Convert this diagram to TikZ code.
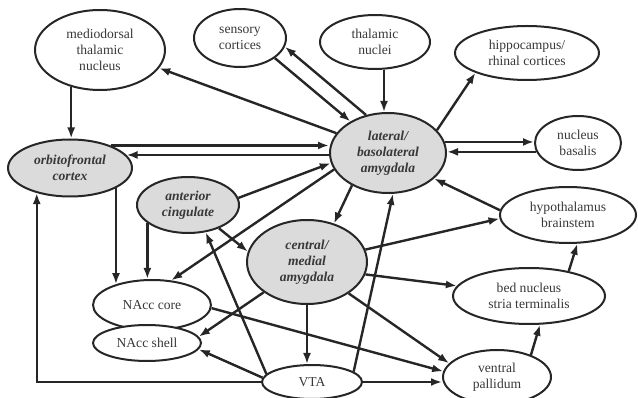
\documentclass[tikz,border=0pt]{standalone}
\usepackage{fontspec}
\setmainfont{Liberation Serif}
\usetikzlibrary{shapes.geometric,arrows.meta}
\begin{document}
\begin{tikzpicture}[x=1pt,y=-1pt,
  region/.style={ellipse, draw=black!85, line width=2pt, fill=white, inner sep=0pt,
    align=center, text=black!78, font=\fontsize{13.6}{16}\selectfont},
  shaded/.style={region, fill=gray!28, font=\fontsize{13.6}{16}\selectfont\bfseries\itshape},
  arr/.style={line width=2.4pt, draw=black!85, -{Latex[length=11pt,width=8pt]}},
]
\useasboundingbox (0,0) rectangle (638,398);

% nodes
\node[region, minimum width=130pt, minimum height=80pt] (md) at (100,50) {mediodorsal\\thalamic\\nucleus};
\node[region, minimum width=92pt, minimum height=58pt] (sc) at (240,38) {sensory\\cortices};
\node[region, minimum width=110pt, minimum height=54pt] (tn) at (375,42) {thalamic\\nuclei};
\node[region, minimum width=144pt, minimum height=54pt] (hc) at (527,53) {hippocampus/\\rhinal cortices};
\node[shaded, minimum width=116pt, minimum height=80pt] (lba) at (388,153) {lateral/\\basolateral\\amygdala};
\node[region, minimum width=86pt, minimum height=54pt] (nb) at (578,143) {nucleus\\basalis};
\node[shaded, minimum width=124pt, minimum height=57pt] (ofc) at (70,168) {orbitofrontal\\cortex};
\node[shaded, minimum width=102pt, minimum height=56pt] (ac) at (188,205) {anterior\\cingulate};
\node[shaded, minimum width=120pt, minimum height=84pt] (cea) at (307,262) {central/\\medial\\amygdala};
\node[region, minimum width=136pt, minimum height=56pt] (hyp) at (568,215) {hypothalamus\\brainstem};
\node[region, minimum width=152pt, minimum height=56pt] (bnst) at (529,296) {bed nucleus\\stria terminalis};
\node[region, minimum width=118pt, minimum height=50pt] (core) at (152,305) {NAcc core};
\node[region, minimum width=108pt, minimum height=36pt] (shell) at (147,343) {NAcc shell};
\node[region, minimum width=100pt, minimum height=34pt] (vta) at (312,382) {VTA};
\node[region, minimum width=108pt, minimum height=54pt] (vp) at (497,377) {ventral\\pallidum};

% connectors
\draw[arr] (md.232) -- (md.232 |- ofc.north);
\draw[arr] (lba.159) -- (md.343);
\draw[arr] (sc.330) -- (lba.140);
\draw[arr] (lba.120) -- (sc.349);
\draw[arr] ([xshift=9pt]tn.south) -- ([xshift=9pt]tn.south |- lba.north);
\draw[arr] (lba.25) -- (hc.201);
\draw[arr] (lba.11) -- (lba.11 -| nb.west);
\draw[arr] (nb.192) -- (nb.192 -| lba.east);
\draw[arr] (hyp.176) -- (lba.331);
\draw[arr] (ofc.29) -- (ofc.29 -| lba.west);
\draw[arr] (ofc.13 -| lba.west) -- (ofc.13);
\draw[arr] (core.150 |- ofc.339) -- (core.150);
\draw[arr] (vta.west) -| (ofc.217);
\draw[arr] (ac.8) -- (lba.190);
\draw[arr] (ac.204) -- (ac.204 |- core.north);
\draw[arr] (ac.323) -- (cea.170);
\draw[arr] (lba.197) -- (core.52);
\draw[arr] (lba.222) -- (cea.55);
\draw[arr] (vta.170) -- (ac.303);
\draw[arr] (vta.14) -- (lba.277);
\draw[arr] (vta.175) -- (shell.353);
\draw[arr] (vta.east) -- (vta.east -| vp.west);
\draw[arr] (cea.south) -- (cea.south |- vta.north);
\draw[arr] (cea.215) -- (shell.7);
\draw[arr] (core.357) -- (vp.174);
\draw[arr] (cea.323) -- (vp.164);
\draw[arr] (cea.12) -- (hyp.183);
\draw[arr] (cea.348) -- (bnst.172);
\draw[arr] (vp.33) -- (bnst.291);
\draw[arr] (bnst.32) -- (hyp.288);
\end{tikzpicture}
\end{document}
